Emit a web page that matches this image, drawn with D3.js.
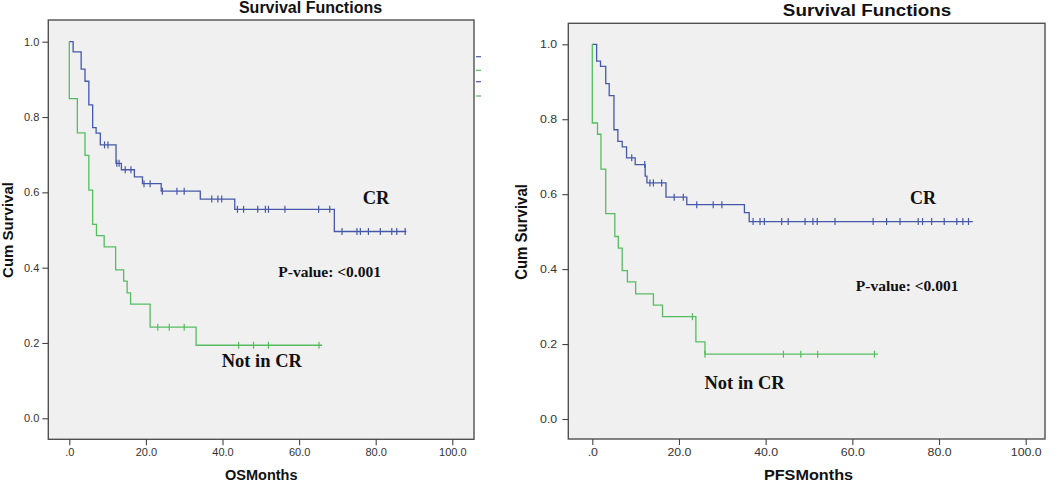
<!DOCTYPE html>
<html>
<head>
<meta charset="utf-8">
<script src="https://cdn.jsdelivr.net/npm/d3@7"></script>
<style>
	body { margin: 0; background: #fff; }
	svg { display: block; }
</style>
</head>
<body>
<svg id="svgBlock" width="1053" height="484"></svg>
<script>
// Tick values shared by both panels
const xTicks = [0, 20, 40, 60, 80, 100];
const yTicks = [0, 0.2, 0.4, 0.6, 0.8, 1.0];

// OS, CR group: event times (months) and survival after each event
const osCrTimes = [0, 1.0, 3.1, 4.1, 5.1, 6.1, 7.0, 8.1, 12.2, 13.6, 17.0, 19.1, 24.0, 34.2, 43.2, 69.2];
const osCrSurv = [1.0, 0.973, 0.927, 0.895, 0.832, 0.772, 0.757, 0.726, 0.677, 0.660, 0.641, 0.623, 0.603, 0.582, 0.555, 0.496];
const osCrCensored = [9.2, 10.1, 12.4, 13.0, 14.6, 16.1, 19.5, 21.1, 24.3, 28.1, 30.0, 37.2, 38.8, 39.8,
	43.9, 45.5, 49.2, 51.2, 52.0, 56.3, 65.1, 68.0, 71.2, 75.1, 76.0, 78.1, 81.2, 84.2, 85.5, 87.7];
const osCrEnd = 88.0;

// OS, not in CR group
const osNotTimes = [0, 0, 2.1, 4.1, 5.1, 6.1, 7.1, 9.1, 12.1, 14.2, 15.1, 16.0, 21.1, 33.1];
const osNotSurv = [1.0, 0.849, 0.758, 0.698, 0.606, 0.515, 0.485, 0.455, 0.394, 0.364, 0.333, 0.303, 0.242, 0.194];
const osNotCensored = [23.1, 26.1, 30.0, 44.2, 48.1, 52.0, 65.2];
const osNotEnd = 66.0;

// PFS, CR group
const pfsCrTimes = [0, 1.0, 1.9, 3.1, 3.9, 5.0, 5.9, 6.9, 7.9, 9.9, 12.2, 12.6, 17.0, 21.8, 35.1, 36.2];
const pfsCrSurv = [1.0, 0.955, 0.941, 0.895, 0.863, 0.772, 0.741, 0.726, 0.697, 0.679, 0.648, 0.630, 0.592, 0.572, 0.551, 0.527];
const pfsCrCensored = [9.1, 12.1, 13.3, 14.1, 16.0, 18.9, 21.0, 24.1, 27.9, 29.9, 37.1, 38.7, 39.7, 43.7,
	45.2, 49.1, 50.9, 51.9, 56.0, 64.8, 67.9, 71.0, 75.2, 76.2, 78.3, 81.2, 84.1, 85.5, 86.8];
const pfsCrEnd = 87.8;

// PFS, not in CR group
const pfsNotTimes = [0, 0, 1.2, 2.0, 3.1, 5.2, 6.0, 6.9, 8.1, 10.0, 14.1, 16.2, 23.9, 26.0];
const pfsNotSurv = [1.0, 0.790, 0.760, 0.667, 0.548, 0.487, 0.456, 0.396, 0.366, 0.334, 0.304, 0.273, 0.206, 0.173];
const pfsNotCensored = [23.1, 26.0, 44.1, 48.1, 52.0, 65.1];
const pfsNotEnd = 65.9;

const BLUE = "#4658a8";
const GREEN = "#55bd5f";
const SANS = "'Liberation Sans', Arial, sans-serif";
const SERIF = "'Liberation Serif', 'Times New Roman', serif";

function createPanel(svg, p) {
	const g = svg.append("g");

	// scales go from the tick positions
	const x = d3.scaleLinear().domain([0, 100]).range([p.x0, p.x100]);
	const y = d3.scaleLinear().domain([0, 1]).range([p.y0, p.y1]);

	// plot background + frame
	g.append("rect")
		.attr("x", p.box[0]).attr("y", p.box[1])
		.attr("width", p.box[2] - p.box[0]).attr("height", p.box[3] - p.box[1])
		.attr("fill", "#f0f0f0")
		.attr("stroke", "#505050")
		.attr("stroke-width", 1.4);

	// axes
	const fmt = d => d === 0 ? ".0" : d.toFixed(1);
	const yAxis = g.append("g")
		.attr("transform", `translate(${p.box[0]},0)`)
		.call(d3.axisLeft(y).tickValues(yTicks).tickFormat(d3.format(".1f")).tickSize(6).tickPadding(3));
	const xAxis = g.append("g")
		.attr("transform", `translate(0,${p.box[3]})`)
		.call(d3.axisBottom(x).tickValues(xTicks).tickFormat(fmt).tickSize(6).tickPadding(3));
	[xAxis, yAxis].forEach(a => {
		a.select(".domain").remove();
		a.selectAll("line").attr("stroke", "#444").attr("stroke-width", 1.1);
		a.selectAll("text")
			.attr("fill", "#333")
			.style("font-family", SANS)
			.style("font-size", "11px");
	});
	// stretch tick labels sideways for the wider panel
	if (p.sx !== 1) {
		xAxis.selectAll(".tick text").attr("transform", `scale(${p.sx},1)`)
			.attr("x", 0);
		yAxis.selectAll(".tick text")
			.attr("transform", function () { return `translate(${-9 * (p.sx - 1)},0) scale(${p.sx},1)`; })
			.attr("x", -9);
	}

	// title, axis labels
	g.append("text")
		.attr("transform", `translate(${p.titleX},${p.titleY}) scale(${p.sx},1)`)
		.attr("text-anchor", "middle")
		.style("font-family", SANS).style("font-weight", "bold").style("font-size", p.titleSize + "px")
		.attr("fill", "#111")
		.text("Survival Functions");

	g.append("text")
		.attr("transform", `translate(${p.xLabelX},480) scale(${p.sx},1)`)
		.attr("text-anchor", "middle")
		.style("font-family", SANS).style("font-weight", "bold").style("font-size", "14.5px")
		.attr("fill", "#111")
		.text(p.xLabel);

	g.append("text")
		.attr("transform", `translate(${p.yLabelX},${p.yLabelY}) scale(${p.sx},1) rotate(-90)`)
		.attr("text-anchor", "middle")
		.style("font-family", SANS).style("font-weight", "bold").style("font-size", "15px")
		.attr("fill", "#111")
		.text("Cum Survival");

	// step curves with censor marks
	const line = d3.line()
		.x(d => x(d[0]))
		.y(d => y(d[1]))
		.curve(d3.curveStepAfter);

	p.groups.forEach(s => {
		const pts = s.times.map((t, i) => [t, s.surv[i]]);
		pts.push([s.end, s.surv[s.surv.length - 1]]);

		g.append("path")
			.attr("d", line(pts))
			.attr("fill", "none")
			.attr("stroke", s.color)
			.attr("stroke-width", 1.3);

		// survival level at a censor time
		const level = t => {
			let v = s.surv[0];
			s.times.forEach((tt, i) => { if (tt <= t) v = s.surv[i]; });
			return v;
		};

		g.selectAll(null)
			.data(s.censored)
			.enter()
			.append("line")
			.attr("x1", d => x(d)).attr("x2", d => x(d))
			.attr("y1", d => y(level(d)) - 3.5)
			.attr("y2", d => y(level(d)) + 3.5)
			.attr("stroke", s.color)
			.attr("stroke-width", 1.2);
	});

	// in-plot annotations
	p.notes.forEach(n => {
		g.append("text")
			.attr("x", n.x).attr("y", n.y)
			.style("font-family", SERIF).style("font-weight", "bold").style("font-size", n.size + "px")
			.attr("fill", "#111")
			.text(n.text);
	});

	return g;
}

const svg = d3.select("#svgBlock");
svg.append("rect").attr("width", 1053).attr("height", 484).attr("fill", "#fff");

const left = createPanel(svg, {
	box: [48.3, 20, 474, 439.3],
	x0: 69.3, x100: 452.3, y0: 418.3, y1: 41.7,
	sx: 1,
	titleX: 310.5, titleY: 13, titleSize: 16,
	xLabel: "OSMonths", xLabelX: 261.3,
	yLabelX: 13.3, yLabelY: 230,
	groups: [
		{ times: osCrTimes, surv: osCrSurv, censored: osCrCensored, end: osCrEnd, color: BLUE },
		{ times: osNotTimes, surv: osNotSurv, censored: osNotCensored, end: osNotEnd, color: GREEN }
	],
	notes: [
		{ text: "CR", x: 362.7, y: 204, size: 18.5 },
		{ text: "P-value: <0.001", x: 278.3, y: 276.7, size: 15.5 },
		{ text: "Not in CR", x: 221.7, y: 366.7, size: 18.5 }
	]
});

// clipped legend remnants at the right edge of the left panel
const legendY = [56.7, 70.3, 81.7, 96];
const legendColor = [BLUE, GREEN, BLUE, GREEN];
left.selectAll(null)
	.data(legendY)
	.enter()
	.append("line")
	.attr("x1", 476).attr("x2", 481)
	.attr("y1", d => d).attr("y2", d => d)
	.attr("stroke", (d, i) => legendColor[i])
	.attr("stroke-width", 1.2);

createPanel(svg, {
	box: [568.3, 23.3, 1045, 439],
	x0: 592.3, x100: 1025.7, y0: 419, y1: 44.3,
	sx: 1.12,
	titleX: 867, titleY: 16, titleSize: 16.8,
	xLabel: "PFSMonths", xLabelX: 808.5,
	yLabelX: 527, yLabelY: 232,
	groups: [
		{ times: pfsCrTimes, surv: pfsCrSurv, censored: pfsCrCensored, end: pfsCrEnd, color: BLUE },
		{ times: pfsNotTimes, surv: pfsNotSurv, censored: pfsNotCensored, end: pfsNotEnd, color: GREEN }
	],
	notes: [
		{ text: "CR", x: 910, y: 204.3, size: 18 },
		{ text: "P-value: <0.001", x: 855.8, y: 290.5, size: 15.5 },
		{ text: "Not in CR", x: 704.5, y: 388.5, size: 18.5 }
	]
});
</script>
</body>
</html>
